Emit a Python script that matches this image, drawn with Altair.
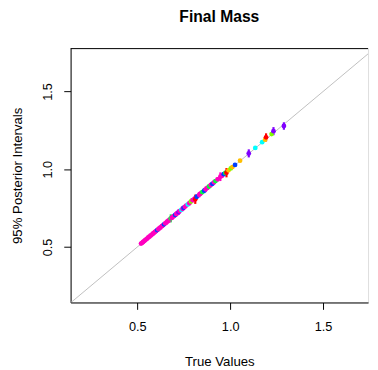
import altair as alt
import pandas as pd

# ---- data ----
true_vals = [0.520, 0.526, 0.531, 0.537, 0.542, 0.548, 0.553, 0.559, 0.565, 0.571,
             0.577, 0.583, 0.589, 0.595, 0.601, 0.607, 0.613, 0.619, 0.625, 0.632,
             0.638, 0.644, 0.650, 0.656, 0.662, 0.668, 0.674, 0.680, 0.686, 0.692,
             0.698, 0.704, 0.710, 0.716, 0.722, 0.728, 0.737, 0.744, 0.749, 0.756,
             0.763, 0.772, 0.780, 0.789, 0.798, 0.807, 0.812, 0.820, 0.833, 0.842,
             0.850, 0.860, 0.868, 0.877, 0.886, 0.895, 0.904, 0.913, 0.921, 0.932,
             0.947, 0.956, 0.965, 0.974, 0.980, 0.991, 1.003, 1.012, 1.026, 1.053,
             1.100, 1.135, 1.172, 1.188, 1.193, 1.223, 1.233, 1.289]
post_est = [0.522, 0.527, 0.532, 0.538, 0.544, 0.549, 0.554, 0.561, 0.566, 0.573,
            0.578, 0.585, 0.590, 0.597, 0.602, 0.609, 0.614, 0.621, 0.626, 0.634,
            0.639, 0.646, 0.652, 0.657, 0.664, 0.669, 0.676, 0.684, 0.688, 0.694,
            0.700, 0.706, 0.712, 0.718, 0.724, 0.731, 0.739, 0.746, 0.752, 0.758,
            0.766, 0.774, 0.782, 0.793, 0.801, 0.809, 0.807, 0.823, 0.836, 0.845,
            0.853, 0.862, 0.871, 0.880, 0.889, 0.898, 0.906, 0.916, 0.924, 0.935,
            0.952, 0.958, 0.968, 0.976, 0.978, 0.993, 1.005, 1.014, 1.028, 1.055,
            1.102, 1.137, 1.174, 1.190, 1.205, 1.226, 1.245, 1.278]
half_width = [0.010, 0.010, 0.010, 0.012, 0.010, 0.010, 0.012, 0.010, 0.012, 0.010,
              0.012, 0.010, 0.014, 0.010, 0.012, 0.012, 0.010, 0.014, 0.012, 0.012,
              0.014, 0.012, 0.012, 0.016, 0.012, 0.014, 0.012, 0.026, 0.014, 0.016,
              0.012, 0.014, 0.016, 0.014, 0.018, 0.014, 0.012, 0.016, 0.014, 0.014,
              0.012, 0.012, 0.016, 0.018, 0.014, 0.016, 0.030, 0.014, 0.018, 0.016,
              0.014, 0.016, 0.018, 0.014, 0.012, 0.016, 0.014, 0.016, 0.012, 0.014,
              0.028, 0.014, 0.012, 0.012, 0.030, 0.010, 0.010, 0.010, 0.012, 0.010,
              0.026, 0.010, 0.010, 0.010, 0.026, 0.010, 0.026, 0.024]
point_cols = ["magenta", "magenta", "magenta", "magenta", "magenta", "magenta", "magenta", "magenta", "magenta", "magenta",
              "magenta", "magenta", "magenta", "magenta", "magenta", "blue", "magenta", "magenta", "magenta", "magenta",
              "magenta", "blue", "magenta", "magenta", "magenta", "magenta", "magenta", "green", "magenta", "magenta",
              "magenta", "blue", "magenta", "magenta", "purple", "magenta", "cyan", "magenta", "blue", "magenta",
              "magenta", "cyan", "magenta", "yellowgreen", "magenta", "magenta", "red", "blue", "magenta", "magenta",
              "green", "blue", "magenta", "magenta", "green", "magenta", "blue", "magenta", "green", "magenta",
              "magenta", "magenta", "blue", "green", "red", "orange", "yellowgreen", "orange", "blue", "orange",
              "purple", "cyan", "cyan", "orange", "red", "yellowgreen", "purple", "purple"]

palette_names = ["red", "orange", "yellowgreen", "green", "cyan", "blue", "purple", "magenta"]
palette_hex = ["#FF0000", "#FFBF00", "#80FF00", "#00FF40", "#00FFFF", "#0040FF", "#8000FF", "#FF00BF"]

diag_vals = [0.143, 1.742]
tick_vals = [0.5, 1.0, 1.5]
x_domain = [0.141, 1.742]
y_domain = [0.143, 1.779]

W, H = 304, 260
FONT = "Liberation Sans"

df = pd.DataFrame({
    "truth": true_vals,
    "est": post_est,
    "lo": [e - h for e, h in zip(post_est, half_width)],
    "hi": [e + h for e, h in zip(post_est, half_width)],
    "col": point_cols,
})
diag_df = pd.DataFrame({"v": diag_vals})

xscale = alt.Scale(domain=x_domain, nice=False, zero=False)
yscale = alt.Scale(domain=y_domain, nice=False, zero=False)
cscale = alt.Scale(domain=palette_names, range=palette_hex)

xaxis = alt.Axis(values=tick_vals, format=".1f", grid=False, tickSize=7, tickColor="black",
                 domainColor="black", labelFont=FONT, labelFontSize=13, labelColor="black",
                 labelPadding=12, title="True Values", titleFont=FONT, titleFontSize=13.5,
                 titleFontWeight="normal", titleColor="black", titleY=60, titleBaseline="middle")
yaxis = alt.Axis(values=tick_vals, format=".1f", grid=False, tickSize=7, tickColor="black",
                 domainColor="black", labelFont=FONT, labelFontSize=13, labelColor="black",
                 labelAngle=-90, labelAlign="center", labelBaseline="bottom", labelPadding=10,
                 title="95% Posterior Intervals", titleFont=FONT, titleFontSize=13.5,
                 titleFontWeight="normal", titleColor="black", titleX=-54, titleY=H / 2,
                 titleAngle=-90, titleAlign="center", titleBaseline="middle")

diag = alt.Chart(diag_df).mark_line(color="#BEBEBE", strokeWidth=1, clip=True).encode(
    x=alt.X("v:Q", scale=xscale, axis=xaxis),
    y=alt.Y("v:Q", scale=yscale, axis=yaxis),
)

bars = alt.Chart(df).mark_rule(strokeWidth=2.2).encode(
    x=alt.X("truth:Q", scale=xscale),
    y=alt.Y("lo:Q", scale=yscale),
    y2="hi:Q",
    color=alt.Color("col:N", scale=cscale, legend=None),
)

pts = alt.Chart(df).mark_circle(size=24, opacity=1).encode(
    x=alt.X("truth:Q", scale=xscale),
    y=alt.Y("est:Q", scale=yscale),
    color=alt.Color("col:N", scale=cscale, legend=None),
)

top_border = alt.Chart(pd.DataFrame({"k": [0]})).mark_rule(color="black", strokeWidth=1).encode(
    x=alt.value(0), x2=alt.value(W), y=alt.value(0.5)
)

chart = alt.layer(diag, bars, pts, top_border).properties(
    width=W, height=H,
    title=alt.TitleParams("Final Mass", font=FONT, fontSize=16, fontWeight="bold", color="black",
                          anchor="middle", frame="group", offset=11, baseline="alphabetic"),
    autosize=alt.AutoSizeParams(type="none"),
    padding={"left": 64, "top": 37, "right": 2, "bottom": 65},
).configure_view(stroke=None).configure(background="white")

chart.save("out.html", embed_options={"renderer": "svg", "actions": False})
